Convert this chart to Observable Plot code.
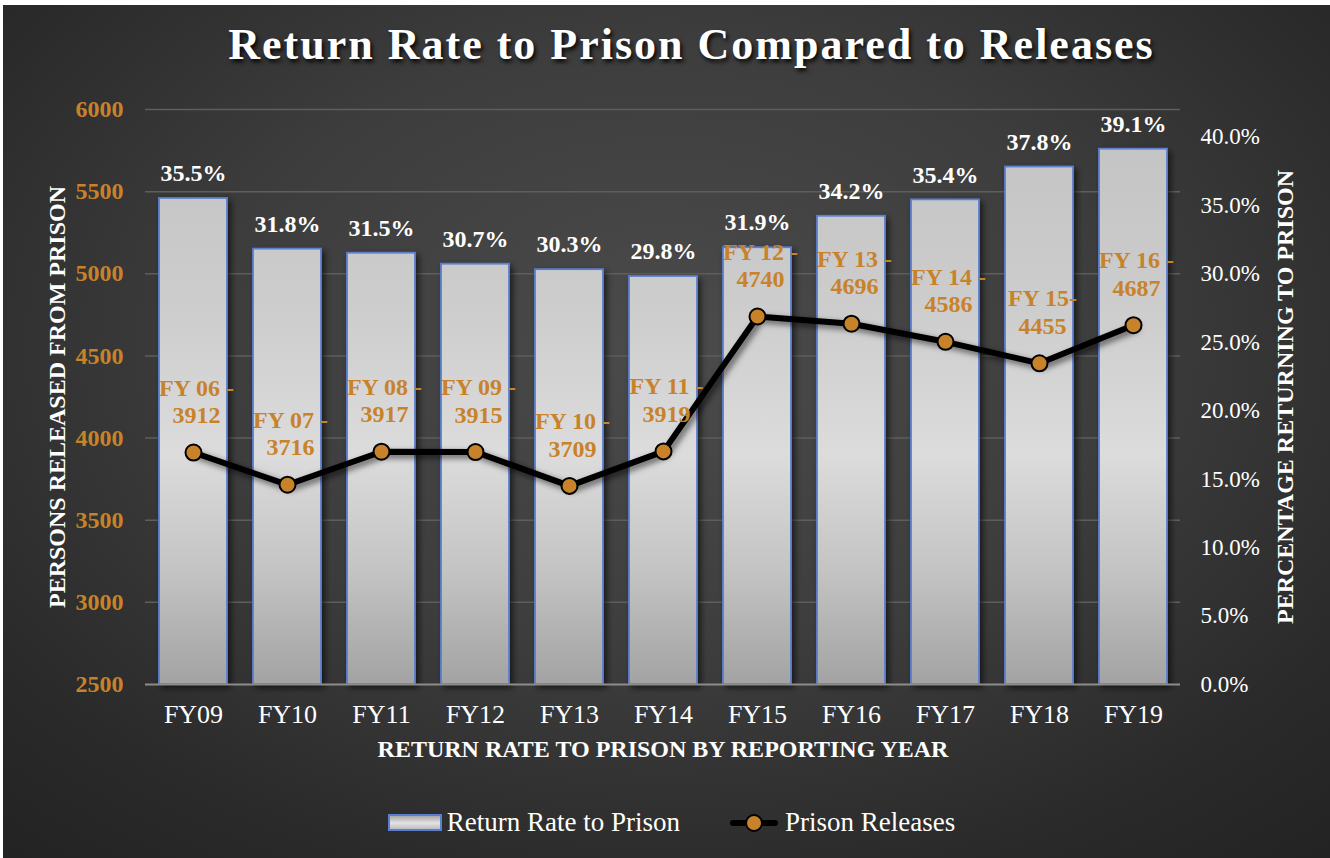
<!DOCTYPE html>
<html>
<head>
<meta charset="utf-8">
<script src="https://cdn.jsdelivr.net/npm/d3@7"></script>
<script src="https://cdn.jsdelivr.net/npm/@observablehq/plot@0.6"></script>
<style>
  html, body { margin: 0; padding: 0; background: #ffffff; }
  #chart {
    position: absolute; left: 3px; top: 5px; width: 1327px; height: 853px; overflow: hidden;
    background: radial-gradient(ellipse 75% 80% at 50% 40%, #4b4b4b 0%, #3d3d3d 45%, #2a2a2a 80%, #232323 100%);
    font-family: "Liberation Serif", "Times New Roman", serif;
  }
  #title {
    position: absolute; left: 0; top: 14px; width: 1327px; padding-left: 50px; box-sizing: border-box;
    text-align: center; color: #fff; font-weight: bold; font-size: 44px; letter-spacing: 2px;
    text-shadow: 2px 3px 4px rgba(0,0,0,0.9);
  }
  #plot { position: absolute; left: -3px; top: 80px; }
  #legend {
    position: absolute; left: 0; top: 802px; width: 1327px; display: flex; justify-content: center;
    align-items: center; color: #fff; font-size: 27px; padding-left: 10px; box-sizing: border-box;
  }
  .item { display: flex; align-items: center; margin: 0 25px; }
  .sw-bar { width: 50px; height: 13px; border: 2px solid #5b7fd0; background: linear-gradient(#a8a8a8, #e2e2e2 55%, #bdbdbd); margin-right: 5px; }
  .sw-line { position: relative; width: 48px; height: 6px; background: #000; border-radius: 3px; margin-right: 7px; }
  .sw-line::after { content: ""; position: absolute; left: 15px; top: -6px; width: 18px; height: 18px; border-radius: 50%; background: #c8832a; border: 2px solid #000; box-sizing: border-box; }
</style>
</head>
<body>
<div id="chart">
  <div id="title">Return Rate to Prison Compared to Releases</div>
  <div id="plot"></div>
  <div id="legend">
    <div class="item"><div class="sw-bar"></div><span>Return Rate to Prison</span></div>
    <div class="item"><div class="sw-line"></div><span>Prison Releases</span></div>
  </div>
</div>
<script>
const years = ["FY09","FY10","FY11","FY12","FY13","FY14","FY15","FY16","FY17","FY18","FY19"];
const returnRates = [35.5, 31.8, 31.5, 30.7, 30.3, 29.8, 31.9, 34.2, 35.4, 37.8, 39.1];
const releases = [3912, 3716, 3917, 3915, 3709, 3919, 4740, 4696, 4586, 4455, 4687];
const releaseYears = ["FY 06 -","FY 07 -","FY 08 -","FY 09 -","FY 10 -","FY 11 -","FY 12 -","FY 13 -","FY 14 -","FY 15-","FY 16 -"];
const leftTicks = [2500, 3000, 3500, 4000, 4500, 5000, 5500, 6000];
const rightTicks = [0, 5, 10, 15, 20, 25, 30, 35, 40];

const leftMin = 2500, leftMax = 6000, rightMax = 42;
const toLeft = p => leftMin + p / rightMax * (leftMax - leftMin);

const data = years.map((y, i) => ({year: y, rate: returnRates[i], rel: releases[i], lab: releaseYears[i] + "\n" + releases[i]}));

const orange = "#c8832a";
const font = "Liberation Serif, Times New Roman, serif";
const mTop = 24;

const chart = Plot.plot({
  width: 1330, height: 700,
  marginLeft: 145, marginRight: 150, marginTop: mTop, marginBottom: 101,
  style: {background: "transparent", fontFamily: font, overflow: "visible"},
  x: {domain: years, paddingInner: 0.278, paddingOuter: 0.133, label: null},
  y: {domain: [leftMin, leftMax], label: null},
  marks: [
    Plot.gridY(leftTicks.slice(1), {stroke: "#5e5e5e", strokeOpacity: 1, strokeWidth: 1.5}),
    Plot.barY(data, {x: "year", y1: leftMin, y2: d => toLeft(d.rate), fill: "url(#barGrad)", stroke: "#5b7fd0", strokeWidth: 1.8}),
    Plot.ruleY([leftMin], {stroke: "#8c8c8c", strokeWidth: 2}),
    Plot.text(data, {x: "year", y: d => toLeft(d.rate), text: d => d.rate.toFixed(1) + "%", dy: -25, fill: "#fff", fontWeight: "bold", fontSize: 24}),
    Plot.line(data, {x: "year", y: "rel", stroke: "#000", strokeWidth: 6, strokeLinejoin: "round"}),
    Plot.dot(data, {x: "year", y: "rel", r: 8, fill: orange, stroke: "#000", strokeWidth: 2}),
    Plot.text(data, {x: "year", y: "rel", text: "lab", dy: -52, dx: 3, fill: orange, fontWeight: "bold", fontSize: 24, lineHeight: 1.15}),
    Plot.axisY(leftTicks, {anchor: "left", tickSize: 0, tickPadding: 22, fill: orange, fontWeight: "bold", fontSize: 24, tickFormat: d => String(d), label: null}),
    Plot.axisY(rightTicks.map(toLeft), {anchor: "right", tickSize: 0, tickPadding: 20, fill: "#fff", fontSize: 23, tickFormat: d => ((d - leftMin) / (leftMax - leftMin) * rightMax).toFixed(1) + "%", label: null}),
    Plot.axisX({tickSize: 0, tickPadding: 20, fill: "#fff", fontSize: 26, label: null}),
    Plot.text(["PERSONS RELEASED FROM PRISON"], {frameAnchor: "left", dx: -88, textAnchor: "middle", rotate: -90, fill: "#fff", fontWeight: "bold", fontSize: 24}),
    Plot.text(["PERCENTAGE RETURNING TO PRISON"], {frameAnchor: "right", dx: 105, textAnchor: "middle", rotate: -90, fill: "#fff", fontWeight: "bold", fontSize: 24}),
    Plot.text(["RETURN RATE TO PRISON BY REPORTING YEAR"], {frameAnchor: "bottom", dy: 72, fill: "#fff", fontWeight: "bold", fontSize: 24})
  ]
});

// gradient definitions for bars (aligned to plot area)
const svg = d3.select(chart);
const defs = svg.insert("defs", ":first-child");
const g = defs.append("linearGradient").attr("id", "barGrad").attr("gradientUnits", "userSpaceOnUse")
  .attr("x1", 0).attr("x2", 0).attr("y1", mTop).attr("y2", 700 - 101);
g.append("stop").attr("offset", "0%").attr("stop-color", "#c2c2c2");
g.append("stop").attr("offset", "35%").attr("stop-color", "#cdcdcd");
g.append("stop").attr("offset", "60%").attr("stop-color", "#dcdcdc");
g.append("stop").attr("offset", "80%").attr("stop-color", "#c4c4c4");
g.append("stop").attr("offset", "100%").attr("stop-color", "#a3a3a3");
const f = defs.append("filter").attr("id", "shadow").attr("x", "-20%").attr("y", "-20%").attr("width", "150%").attr("height", "150%");
f.append("feDropShadow").attr("dx", 3).attr("dy", 3).attr("stdDeviation", 3).attr("flood-color", "#000").attr("flood-opacity", 0.6);
svg.selectAll("g[aria-label='bar'], g[aria-label='line']").attr("filter", "url(#shadow)");

document.getElementById("plot").appendChild(chart);
</script>
</body>
</html>
